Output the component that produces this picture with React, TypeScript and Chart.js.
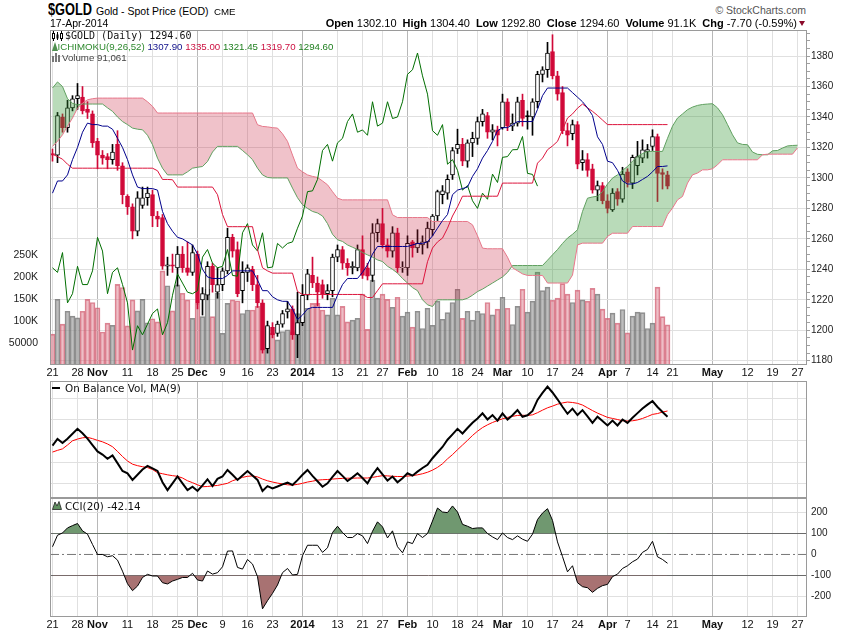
import React, { useEffect, useRef } from "react";
import { Chart, registerables } from "chart.js";

Chart.register(...registerables);

// ---------- axis ticks ----------
const tickIdx = [0, 5, 9, 15, 20, 25, 29, 34, 39, 44, 50, 57, 62, 66, 71, 76, 81, 85, 90, 95, 100, 105, 111, 115, 120, 124, 132, 139, 144, 149];
const tickLbl = ["21", "28", "Nov", "11", "18", "25", "Dec", "9", "16", "23", "2014", "13", "21", "27", "Feb", "10", "18", "24", "Mar", "10", "17", "24", "Apr", "7", "14", "21", "May", "12", "19", "27"];
const monthLbl = ["Nov", "Dec", "2014", "Feb", "Mar", "Apr", "May"];
const priceTicks = [1180, 1200, 1220, 1240, 1260, 1280, 1300, 1320, 1340, 1360, 1380];
const priceMinorTicks = [
  1180, 1185, 1190, 1195, 1200, 1205, 1210, 1215, 1220, 1225, 1230, 1235, 1240, 1245, 1250, 1255,
  1260, 1265, 1270, 1275, 1280, 1285, 1290, 1295, 1300, 1305, 1310, 1315, 1320, 1325, 1330, 1335,
  1340, 1345, 1350, 1355, 1360, 1365, 1370, 1375, 1380, 1385, 1390, 1395,
];
const volTicks = [50, 100, 150, 200, 250];
const cciTicks = [-200, -100, 0, 100, 200];
const obvGrid = [0, 1, 2, 3, 4];

// ---------- price data (trading days from 21-Oct-2013 to 17-Apr-2014) ----------
const opens = [
  1316, 1315, 1340, 1333, 1346, 1352, 1353, 1345, 1342, 1324,
  1315, 1314, 1312, 1322, 1308, 1288, 1281, 1265, 1282, 1287,
  1289, 1275, 1274, 1242, 1243, 1241, 1250, 1241, 1238, 1250,
  1220, 1223, 1242, 1225, 1230, 1239, 1261, 1253, 1226, 1238,
  1240, 1230, 1218, 1188, 1202, 1198, 1204, 1212, 1214, 1197,
  1205, 1223, 1236, 1231, 1230, 1224, 1226, 1248, 1253, 1244,
  1241, 1241, 1253, 1241, 1236, 1264, 1270, 1256, 1252, 1264,
  1241, 1241, 1258, 1254, 1256, 1258, 1266, 1275, 1289, 1290,
  1302, 1319, 1322, 1311, 1323, 1326, 1337, 1341, 1330, 1331.5,
  1333, 1350, 1334, 1336, 1351, 1341, 1340, 1350, 1368, 1371,
  1383, 1367, 1356, 1331, 1329, 1335, 1310, 1312, 1306, 1292,
  1295, 1285, 1279, 1291, 1286, 1304, 1296.5, 1308, 1313, 1317.2,
  1320.7, 1327.2, 1303.5, 1302.1,
];
const highs = [
  1319, 1343, 1342, 1351, 1354, 1362, 1360, 1350, 1344, 1326,
  1318, 1316, 1322, 1331, 1310, 1289, 1283, 1291, 1294, 1294,
  1292, 1278, 1276, 1248, 1250, 1255, 1255, 1258, 1256, 1252,
  1228, 1245, 1244, 1241, 1241, 1267, 1263, 1258, 1245, 1243,
  1242, 1236, 1220, 1206, 1205, 1206, 1213, 1219, 1216, 1225,
  1230, 1240, 1248, 1235, 1233, 1230, 1250, 1256, 1255, 1247,
  1245, 1256, 1262, 1244, 1270, 1273, 1280, 1260, 1268, 1267,
  1245, 1262, 1259, 1266, 1262, 1271, 1276, 1292, 1295, 1302,
  1320, 1332, 1326, 1325, 1330, 1340, 1345, 1343, 1335, 1334,
  1355, 1352, 1342, 1353, 1355, 1344, 1352, 1370, 1373, 1389,
  1394, 1370, 1360, 1336, 1338, 1337, 1318, 1316, 1309, 1298,
  1297, 1289, 1293, 1293, 1307, 1306, 1315, 1324, 1325, 1322,
  1331.6, 1328.8, 1306, 1304.4,
];
const lows = [
  1311, 1310, 1330, 1330, 1344, 1345, 1342, 1339, 1320, 1306,
  1309, 1306, 1309, 1305, 1283, 1276, 1260, 1262, 1280, 1282,
  1268, 1268, 1240, 1236, 1238, 1229, 1238, 1236, 1236, 1214,
  1210, 1220, 1225, 1221, 1226, 1237, 1248, 1222, 1218, 1232,
  1226, 1215, 1185, 1185, 1195, 1196, 1202, 1208, 1194, 1182,
  1203, 1220, 1228, 1216, 1221, 1220, 1222, 1245, 1240, 1236,
  1237, 1239, 1234, 1233, 1232, 1258, 1254, 1248, 1248, 1238,
  1238, 1236, 1248, 1251, 1250, 1254, 1262, 1272, 1283, 1286,
  1299, 1316, 1308, 1307, 1314, 1322, 1334, 1326, 1325, 1321,
  1332, 1331, 1331, 1334, 1334, 1332, 1328, 1346, 1363, 1366,
  1365, 1351, 1329, 1321, 1325, 1306, 1305, 1301, 1290, 1285,
  1283, 1277, 1278, 1282, 1284, 1294, 1293, 1302, 1310, 1313,
  1318, 1284.5, 1292.7, 1292.8,
];
const closes = [
  1315, 1341, 1333, 1346, 1352, 1354, 1344, 1343, 1323, 1315,
  1313, 1312, 1317, 1308, 1289, 1281, 1265, 1287, 1287, 1290,
  1275, 1273, 1242, 1243, 1242, 1250, 1241, 1238, 1251, 1218,
  1224, 1242, 1230, 1230, 1239, 1261, 1252, 1224, 1238, 1241,
  1230, 1218, 1187, 1203, 1197, 1204, 1211, 1214, 1197, 1205,
  1223, 1237, 1231, 1225, 1224, 1226, 1248, 1253, 1244, 1241,
  1242, 1253, 1236, 1235.5, 1264, 1270, 1256, 1252, 1264, 1241,
  1241.5, 1257, 1254, 1257, 1258, 1267, 1275, 1291, 1291.5, 1299,
  1318, 1322, 1311, 1323, 1326, 1337, 1342, 1330, 1331.5, 1328,
  1350, 1334, 1336, 1350, 1339, 1340, 1350, 1368, 1371, 1382,
  1367, 1355, 1331, 1328, 1335, 1309, 1312, 1305, 1292, 1295,
  1285, 1280, 1290, 1286, 1302.5, 1297, 1313.5, 1314, 1318.5, 1318.6,
  1327.2, 1303, 1302.3, 1294.6,
];
// volume in thousands
const volumeK = [
  70, 149, 93, 122, 111, 107, 122, 149, 142, 130,
  75, 95, 90, 183, 176, 89, 148, 123, 149, 96,
  105, 98, 214, 180, 123, 182, 163, 148, 106, 140,
  110, 172, 110, 163, 72, 140, 148, 146, 117, 125,
  125, 133, 140, 87, 72, 57, 76, 80, 76, 117,
  110, 129, 140, 140, 125, 114, 152, 114, 133, 98,
  102, 106, 161, 81, 193, 152, 161, 149, 131, 154,
  111, 120, 86, 122, 83, 129, 90, 145, 104, 119,
  142, 172, 106, 122, 102, 122, 117, 142, 114, 127,
  154, 129, 92, 133, 172, 120, 145, 211, 169, 177,
  147, 152, 185, 161, 142, 170, 148, 145, 174, 161,
  127, 106, 118, 95, 126, 73, 111, 120, 119, 83,
  95, 177, 110, 91.061,
];

// ---------- Ichimoku (9,26,52) ----------
const tenkan = [
  1290, 1298, 1298, 1302, 1312, 1320, 1330, 1336, 1335, 1335,
  1334, 1334, 1332, 1326, 1320, 1312, 1302, 1294, 1293, 1293,
  1293, 1292, 1278, 1270, 1265, 1261, 1260, 1258, 1256, 1250,
  1240, 1235, 1234, 1234, 1234, 1236, 1239, 1239, 1239, 1239,
  1239, 1233, 1226, 1226, 1222, 1220, 1219, 1219, 1214, 1207,
  1210, 1214, 1215, 1215, 1215, 1215, 1215, 1223, 1230, 1234,
  1234, 1234, 1238, 1243, 1250, 1255, 1255, 1255, 1255, 1255,
  1255, 1255, 1256, 1257, 1257, 1258, 1262, 1267, 1272, 1276,
  1289, 1292, 1293, 1294, 1301, 1306, 1313, 1318, 1324, 1331,
  1333, 1333, 1335, 1337, 1337, 1337, 1337, 1345, 1354, 1359,
  1359, 1359, 1359, 1359, 1356, 1353, 1350, 1346, 1341, 1327,
  1322, 1311, 1310, 1305, 1298, 1296, 1296, 1297, 1299, 1301,
  1304, 1307.5, 1307.5, 1307.9,
];
const kijun = [
  1315.6, 1314, 1312.3, 1309, 1306.4, 1306.4, 1306.4, 1306.4, 1306.4, 1306.4,
  1306.4, 1306.4, 1306.4, 1306.4, 1306.4, 1306.4, 1306.4, 1306.4, 1306.4, 1306.4,
  1306.4, 1304.7, 1299, 1299, 1298.8, 1294, 1294, 1294, 1294, 1294,
  1294, 1294, 1294, 1289, 1276, 1268, 1268, 1268, 1268, 1268,
  1268, 1253, 1241, 1239, 1237.5, 1237.5, 1237.5, 1237.5, 1237.5, 1225.4,
  1223.5, 1223.5, 1223.5, 1223.5, 1223.5, 1223.5, 1223.5, 1223.5, 1223.5, 1223.5,
  1223.5, 1223.5, 1223.5, 1221.5, 1221.5, 1226, 1230.5, 1230.5, 1230.5, 1230.5,
  1230.5, 1230.5, 1230.5, 1230.5, 1230.5, 1245, 1254, 1258, 1260.5, 1267,
  1275, 1281, 1288, 1288, 1288, 1288, 1288, 1288, 1288, 1288,
  1296.6, 1296.6, 1296.6, 1296.6, 1296.6, 1296.6, 1296.6, 1309.7, 1313, 1318.5,
  1321, 1324, 1331.6, 1339.3, 1342, 1345.8, 1348.5, 1346, 1343.7, 1341,
  1338, 1335, 1335, 1335, 1335, 1335, 1335, 1335, 1335, 1335,
  1335, 1335, 1335, 1335,
];
const spanA = [
  1359, 1363, 1360, 1352, 1349, 1348, 1348.5, 1348.5, 1348.5, 1348.5,
  1348.5, 1346, 1343.7, 1340, 1337, 1335, 1332.7, 1332, 1331.6, 1328,
  1321.8, 1313, 1306.4, 1302, 1302, 1302, 1302, 1304, 1306.4, 1307,
  1307.5, 1310.8, 1317, 1320.7, 1320.7, 1320.7, 1320.7, 1320.7, 1318, 1315.2,
  1312, 1306.4, 1302, 1300.3, 1300, 1300, 1300, 1300, 1293.3, 1287,
  1282.4, 1280, 1278, 1277, 1275, 1270, 1263, 1259.4, 1258.3, 1256,
  1254.5, 1253, 1251, 1249.5, 1248, 1246.2, 1245.1, 1242, 1240, 1237.5,
  1234, 1231, 1228, 1226, 1220, 1216.7, 1215.6, 1220, 1220, 1220,
  1220, 1220, 1220, 1221, 1223, 1225.4, 1227, 1229, 1231, 1233,
  1235, 1238, 1242.5, 1242.5, 1242.5, 1242.5, 1242.5, 1242.5, 1242.5, 1246,
  1249.5, 1253, 1257, 1260.5, 1263, 1266, 1278, 1286.7, 1287.5, 1288,
  1291, 1296, 1299.9, 1302, 1305, 1307.5, 1311, 1314.1, 1316, 1317.4,
  1317.4, 1317.4, 1317.4, 1326, 1334, 1339.3, 1342, 1344.8, 1346.5, 1347.6,
  1348.2, 1348.5, 1348.7, 1346, 1341.5, 1335, 1328.3, 1323, 1322, 1321.8,
  1317, 1315.5, 1315.2, 1315.2, 1317.8, 1318, 1319.6, 1321, 1321.3, 1321.45,
];
const spanB = [
  1320.7, 1324, 1328.3, 1334, 1339.3, 1345.8, 1349.1, 1351.3, 1352, 1352.4,
  1352.4, 1352.4, 1352.4, 1352.4, 1352.4, 1352.4, 1352.4, 1352.4, 1352.4, 1350,
  1347, 1342.6, 1342.6, 1342.6, 1342.6, 1342.6, 1342.6, 1342.6, 1342.6, 1342.6,
  1342.6, 1342.6, 1342.6, 1342.6, 1342.6, 1342.6, 1342.6, 1342.6, 1342.6, 1342.6,
  1342.6, 1334.9, 1333.8, 1333.5, 1333, 1332.7, 1329, 1324, 1315, 1306.4,
  1304, 1302, 1301, 1300.3, 1298, 1295.5, 1291, 1286.7, 1285.6, 1285.6,
  1285.6, 1285.6, 1285.6, 1285.6, 1285.6, 1285.6, 1285.6, 1285.6, 1275.8, 1274,
  1274, 1274, 1274, 1274, 1274, 1274, 1271.4, 1271.4, 1271.4, 1271.4,
  1271.4, 1271.4, 1271.4, 1271.4, 1269.2, 1262, 1253.9, 1253.5, 1253.5, 1253.5,
  1253.5, 1248, 1241, 1239, 1237, 1236, 1236, 1236, 1236, 1231,
  1231, 1231, 1231, 1231, 1236.2, 1256, 1257.2, 1257.2, 1257.2, 1257.2,
  1257.2, 1261.6, 1263.7, 1263.7, 1263.7, 1263.7, 1268.1, 1268.1, 1268.1, 1268.1,
  1268.1, 1268.1, 1268.1, 1275.8, 1280.2, 1285.6, 1287.8, 1296.6, 1302, 1303.2,
  1305.3, 1305.3, 1306, 1308.6, 1311.9, 1311.9, 1311.9, 1311.9, 1311.9, 1311.9,
  1311.9, 1311.9, 1315.2, 1315.6, 1315.6, 1315.6, 1315.6, 1315.6, 1315.6, 1319.7,
];

// ---------- On Balance Volume (millions, relative) and its MA(9) ----------
const obv = [
  1.77, 2.09, 1.9, 2.1, 2.33, 2.56, 2.35, 2.1, 1.8, 1.5,
  1.35, 1.15, 1.31, 0.95, 0.58, 0.47, 0.16, 0.4, 0.65, 0.82,
  0.7, 0.58, 0.05, -0.32, 0.0, 0.32, 0.0, -0.32, -0.16, -0.36,
  -0.1, 0.19, -0.13, 0.21, 0.32, 0.63, 0.4, 0.16, 0.37, 0.58,
  0.37, 0.16, -0.36, -0.13, -0.24, -0.15, -0.05, 0.03, -0.08, 0.15,
  0.4, 0.63, 0.35, 0.1, -0.16, 0.0, 0.3, 0.58, 0.35, 0.11,
  0.28, 0.47, 0.25, 0.0, 0.4, 0.71, 0.42, 0.13, 0.32, 0.05,
  0.24, 0.47, 0.36, 0.55, 0.72, 0.87, 1.18, 1.45, 1.71, 2.05,
  2.3, 2.56, 2.34, 2.6, 2.85, 3.05, 3.29, 3.0, 3.21, 2.95,
  3.29, 3.0, 3.2, 3.44, 3.13, 3.2, 3.4, 3.92, 4.25, 4.55,
  4.27, 3.95, 3.6, 3.27, 3.51, 3.21, 3.44, 3.15, 2.84, 3.13,
  2.93, 2.72, 2.95, 2.72, 3.0, 2.84, 3.08, 3.3, 3.52, 3.7,
  3.87, 3.59, 3.35, 3.13,
];
const obvMA = [
  1.47, 1.55, 1.62, 1.8, 2.0, 2.08, 2.14, 2.16, 2.1, 2.02,
  1.95, 1.85, 1.72, 1.5, 1.26, 1.05, 0.9, 0.83, 0.78, 0.74,
  0.65, 0.5, 0.45, 0.4, 0.36, 0.33, 0.25, 0.12, 0.03, -0.07,
  -0.16, -0.15, -0.12, -0.1, -0.05, 0.0, 0.12, 0.2, 0.28, 0.33,
  0.35, 0.3, 0.2, 0.12, 0.06, 0.01, -0.03, -0.07, -0.08, -0.05,
  0.0, 0.06, 0.1, 0.15, 0.17, 0.18, 0.2, 0.22, 0.23, 0.24,
  0.24, 0.25, 0.25, 0.25, 0.28, 0.32, 0.36, 0.35, 0.33, 0.32,
  0.32, 0.34, 0.36, 0.4, 0.45, 0.52, 0.62, 0.75, 0.92, 1.15,
  1.35, 1.58, 1.8, 2.02, 2.25, 2.45, 2.62, 2.75, 2.86, 2.95,
  3.03, 3.1, 3.15, 3.19, 3.2, 3.19, 3.22, 3.32, 3.44, 3.55,
  3.63, 3.72, 3.78, 3.82, 3.8, 3.76, 3.68, 3.55, 3.42, 3.3,
  3.2, 3.1, 3.05, 3.0, 2.94, 2.93, 2.94, 2.98, 3.05, 3.14,
  3.24, 3.28, 3.35, 3.4,
];

// ---------- CCI(20) ----------
const cci = [
  37, 92, 103, 127, 138, 148, 113, 97, 48, 0,
  0, -11, -6, -27, -80, -140, -173, -151, -110, -95,
  -103, -103, -135, -141, -127, -119, -110, -110, -90, -122,
  -127, -79, -94, -87, -59, 16, 17, -62, -70, -24,
  -46, -106, -260, -221, -186, -146, -87, -67, -98, -95,
  -6, 44, 44, 44, 10, 32, 105, 135, 105, 81,
  81, 100, 89, 52, 111, 156, 132, 79, 113, 37,
  8, 60, 52, 100, 81, 100, 160, 222, 203, 200,
  232, 203, 144, 135, 124, 127, 127, 100, 84, 71,
  103, 81, 71, 89, 73, 63, 97, 167, 198, 219,
  163, 60, -10, -83, -54, -135, -154, -159, -181, -162,
  -149, -143, -106, -94, -67, -54, -35, -22, 10, 24,
  63, -11, -24, -42.14,
];

// ---------- styling helpers ----------
const SANS = "'Liberation Sans', Arial, Helvetica, sans-serif";
const X_MIN = -0.5;
const X_MAX = 150.9;
const LEFT_W = 50;
const RIGHT_W = 43;
const RED = "rgb(208,8,56)";

const lblAt = (v: number) => {
  const k = tickIdx.indexOf(Math.round(v));
  return k >= 0 ? tickLbl[k] : "";
};
const isMonth = (v: number) => monthLbl.includes(lblAt(v));

const fitV = (w: number) => (s: any) => {
  s.width = w;
  s.paddingTop = 0;
  s.paddingBottom = 0;
};

function xAxis(showLabels: boolean, h: number): any {
  return {
    type: "linear",
    position: "bottom",
    min: X_MIN,
    max: X_MAX,
    offset: false,
    afterBuildTicks: (s: any) => {
      s.ticks = tickIdx.map((v) => ({ value: v }));
    },
    afterFit: (s: any) => {
      s.height = h;
      s.paddingLeft = 0;
      s.paddingRight = 0;
    },
    grid: {
      offset: false,
      drawTicks: false,
      color: (c: any) => (c.tick && isMonth(c.tick.value) ? "#b8b8b8" : "#e0e0e0"),
    },
    border: { display: false },
    ticks: {
      display: showLabels,
      autoSkip: false,
      maxRotation: 0,
      minRotation: 0,
      padding: 1,
      color: "#111",
      callback: (v: any) => lblAt(Number(v)),
      font: (c: any) => ({
        family: SANS,
        size: 11,
        weight: c.tick && isMonth(c.tick.value) ? "bold" : "normal",
      }),
    },
  };
}

function blankLeft(): any {
  return {
    position: "left",
    min: 0,
    max: 1,
    afterFit: fitV(LEFT_W),
    grid: { display: false },
    border: { display: false },
    ticks: { display: false },
  };
}

const framePlugin = {
  id: "frame",
  afterDraw(chart: any) {
    const { ctx, chartArea: a } = chart;
    ctx.save();
    ctx.strokeStyle = "#9a9a9a";
    ctx.lineWidth = 1;
    ctx.strokeRect(Math.round(a.left) + 0.5, Math.round(a.top) + 0.5, Math.round(a.right - a.left) - 1, Math.round(a.bottom - a.top) - 1);
    ctx.restore();
  },
};

const baseOptions = (padTop: number): any => ({
  responsive: false,
  maintainAspectRatio: false,
  animation: false,
  events: [],
  layout: { padding: { top: padTop, left: 0, right: 0, bottom: 0 } },
  plugins: { legend: { display: false }, tooltip: { enabled: false } },
});

const pts = (arr: number[]) => arr.map((v, i) => ({ x: i, y: v }));

function mainConfig(): any {
  const dirUp = closes.map((c, i) => (i === 0 ? false : c >= closes[i - 1]));
  const candleCol = dirUp.map((u) => (u ? "#000" : RED));
  const bodyFill = closes.map((c, i) => (c > opens[i] ? "#fff" : candleCol[i]));
  const line = (data: any[], color: string, order: number, extra: any = {}) => ({
    type: "line",
    yAxisID: "y",
    data,
    borderColor: color,
    borderWidth: 1,
    pointRadius: 0,
    tension: 0,
    fill: false,
    order,
    ...extra,
  });
  return {
    type: "bar",
    data: {
      datasets: [
        {
          type: "bar",
          yAxisID: "yv",
          data: pts(volumeK),
          backgroundColor: dirUp.map((u) => (u ? "rgba(150,150,150,0.62)" : "rgba(215,100,120,0.42)")),
          borderColor: dirUp.map((u) => (u ? "rgba(115,115,115,0.8)" : "rgba(210,95,115,0.75)")),
          borderWidth: 1,
          barThickness: 5,
          grouped: false,
          order: 10,
        },
        {
          type: "bar",
          yAxisID: "y",
          data: lows.map((l, i) => ({ x: i, y: [l, highs[i]] })),
          backgroundColor: candleCol,
          borderWidth: 0,
          barThickness: 1,
          grouped: false,
          order: 9,
        },
        {
          type: "bar",
          yAxisID: "y",
          data: opens.map((o, i) => ({ x: i, y: [o, closes[i]] })),
          backgroundColor: bodyFill,
          borderColor: candleCol,
          borderWidth: 1,
          borderSkipped: false,
          barThickness: 4,
          grouped: false,
          order: 8,
        },
        line(pts(spanA), "rgb(96,160,96)", 7, {
          fill: { target: 4, above: "rgba(50,150,50,0.34)", below: "rgba(200,30,60,0.27)" },
        }),
        line(pts(spanB), "rgb(232,118,138)", 6),
        line(pts(closes.slice(26)), "rgb(0,110,0)", 5),
        line(pts(kijun), "rgb(220,20,60)", 4),
        line(pts(tenkan), "rgb(0,0,140)", 3),
      ],
    },
    options: {
      ...baseOptions(2),
      scales: {
        x: xAxis(true, 15),
        y: {
          type: "linear",
          position: "right",
          min: 1177.2,
          max: 1397.1,
          afterBuildTicks: (s: any) => {
            s.ticks = priceMinorTicks.map((v) => ({ value: v }));
          },
          afterFit: fitV(RIGHT_W),
          grid: {
            drawTicks: true,
            tickLength: 3,
            tickColor: "#a0a0a0",
            color: (c: any) => (c.tick && priceTicks.includes(c.tick.value) ? "#e0e0e0" : "rgba(0,0,0,0)"),
          },
          border: { display: false },
          ticks: {
            autoSkip: false,
            padding: 1,
            color: "#222",
            font: { family: SANS, size: 10 },
            callback: (v: any) => (priceTicks.includes(Number(v)) ? String(v) : ""),
          },
        },
        yv: {
          type: "linear",
          position: "left",
          min: 0,
          max: 761,
          afterBuildTicks: (s: any) => {
            s.ticks = volTicks.map((v) => ({ value: v }));
          },
          afterFit: fitV(LEFT_W),
          grid: { display: false },
          border: { display: false },
          ticks: {
            padding: 4,
            color: "#222",
            font: { family: SANS, size: 10.5 },
            callback: (v: any) => (Number(v) === 50 ? "50000" : `${v}K`),
          },
        },
      },
    },
    plugins: [framePlugin],
  };
}

function obvConfig(): any {
  return {
    type: "line",
    data: {
      datasets: [
        { data: pts(obv), borderColor: "#000", borderWidth: 2, pointRadius: 0, tension: 0, fill: false, order: 1, yAxisID: "y" },
        { data: pts(obvMA), borderColor: "rgb(255,0,0)", borderWidth: 1, pointRadius: 0, tension: 0, fill: false, order: 2, yAxisID: "y" },
      ],
    },
    options: {
      ...baseOptions(1),
      scales: {
        x: xAxis(false, 0),
        yl: blankLeft(),
        y: {
          type: "linear",
          position: "right",
          min: -0.69,
          max: 4.81,
          afterBuildTicks: (s: any) => {
            s.ticks = obvGrid.map((v) => ({ value: v }));
          },
          afterFit: fitV(RIGHT_W),
          grid: { color: "#e0e0e0", drawTicks: false },
          border: { display: false },
          ticks: { display: false },
        },
      },
    },
    plugins: [framePlugin],
  };
}

function cciConfig(): any {
  return {
    type: "line",
    data: {
      datasets: [
        {
          data: pts(cci),
          borderColor: "#000",
          borderWidth: 1,
          pointRadius: 0,
          tension: 0,
          order: 1,
          yAxisID: "y",
          fill: { target: { value: 100 }, above: "rgb(112,152,112)", below: "rgba(0,0,0,0)" },
        },
        {
          data: pts(cci),
          borderColor: "rgba(0,0,0,0)",
          borderWidth: 1,
          pointRadius: 0,
          tension: 0,
          order: 2,
          yAxisID: "y",
          fill: { target: { value: -100 }, above: "rgba(0,0,0,0)", below: "rgb(168,114,114)" },
        },
        {
          data: [
            { x: X_MIN, y: 0 },
            { x: X_MAX, y: 0 },
          ],
          borderColor: "#777",
          borderWidth: 1,
          borderDash: [9, 3, 2, 3],
          pointRadius: 0,
          fill: false,
          order: 3,
          yAxisID: "y",
        },
      ],
    },
    options: {
      ...baseOptions(0),
      scales: {
        x: xAxis(true, 16),
        yl: blankLeft(),
        y: {
          type: "linear",
          position: "right",
          min: -299,
          max: 270,
          afterBuildTicks: (s: any) => {
            s.ticks = cciTicks.map((v) => ({ value: v }));
          },
          afterFit: fitV(RIGHT_W),
          grid: {
            drawTicks: false,
            color: (c: any) => {
              const v = c.tick ? c.tick.value : 1;
              if (v === 0) return "rgba(0,0,0,0)";
              if (Math.abs(v) === 100) return "#6a6a6a";
              return "#e0e0e0";
            },
          },
          border: { display: false },
          ticks: { padding: 4, color: "#222", font: { family: SANS, size: 10 }, callback: (v: any) => String(v) },
        },
      },
    },
    plugins: [framePlugin],
  };
}

function ChartCanvas({ top, height, make }: { top: number; height: number; make: () => any }) {
  const ref = useRef<HTMLCanvasElement | null>(null);
  useEffect(() => {
    if (!ref.current) return;
    const chart = new Chart(ref.current, make());
    return () => chart.destroy();
  }, []);
  return (
    <canvas
      ref={ref}
      width={850}
      height={height}
      style={{ position: "absolute", left: 0, top, width: 850, height, display: "block" }}
    />
  );
}

function Txt({ x, y, size, children, font = SANS, weight = "normal", color = "#000", right = false, ls, tf }: any) {
  const style: any = {
    position: "absolute",
    top: y - size * 0.6,
    fontFamily: font,
    fontSize: size,
    lineHeight: `${size * 1.2}px`,
    fontWeight: weight,
    color,
    whiteSpace: "nowrap",
    letterSpacing: ls,
    transform: tf,
    transformOrigin: "left center",
  };
  if (right) style.right = 850 - x;
  else style.left = x;
  return <div style={style}>{children}</div>;
}

export default function App() {
  const g = { marginLeft: 6 };
  return (
    <div style={{ position: "absolute", left: 0, top: 0, width: 850, height: 633, background: "#fff", overflow: "hidden" }}>
      <ChartCanvas top={28} height={352} make={mainConfig} />
      <ChartCanvas top={380} height={118} make={obvConfig} />
      <ChartCanvas top={498} height={135} make={cciConfig} />

      {/* header */}
      <Txt x={48} y={10} size={16} weight="bold" tf="scaleX(0.8)">$GOLD</Txt>
      <Txt x={96} y={11} size={10.5}>Gold - Spot Price (EOD)</Txt>
      <Txt x={214} y={11.5} size={9.7}>CME</Txt>
      <Txt x={50} y={23.5} size={10.5}>17-Apr-2014</Txt>
      <Txt x={806} y={10.5} size={10.5} color="#555" right>
        © StockCharts.com
      </Txt>
      <Txt x={797} y={23.5} size={11} right>
        <b>Open</b> 1302.10<b style={g}>High</b> 1304.40<b style={g}>Low</b> 1292.80<b style={g}>Close</b> 1294.60
        <b style={g}>Volume</b> 91.1K<b style={g}>Chg</b> -7.70 (-0.59%)
      </Txt>
      <div
        style={{
          position: "absolute",
          left: 799,
          top: 21,
          width: 0,
          height: 0,
          borderLeft: "3.5px solid transparent",
          borderRight: "3.5px solid transparent",
          borderTop: "5px solid #8b0a2a",
        }}
      />

      {/* main panel legend */}
      <svg style={{ position: "absolute", left: 52, top: 31 }} width={11} height={10}>
        <line x1={1.5} y1={0} x2={1.5} y2={10} stroke="#000" />
        <rect x={0.5} y={2.5} width={2} height={5} fill="#fff" stroke="#000" />
        <line x1={5.5} y1={1} x2={5.5} y2={9} stroke="#000" />
        <rect x={4.5} y={3.5} width={2} height={4} fill="#000" />
        <line x1={9.5} y1={0} x2={9.5} y2={10} stroke="#000" />
        <rect x={8.5} y={2.5} width={2} height={5} fill="#fff" stroke="#000" />
      </svg>
      <Txt x={65} y={36} size={10} font="'DejaVu Sans Mono', 'Liberation Mono', monospace" color="#111">
        $GOLD (Daily) 1294.60
      </Txt>
      <svg style={{ position: "absolute", left: 52, top: 42 }} width={6} height={9}>
        <polygon points="0,9 3,0 6,9" fill="#4f8f4f" />
      </svg>
      <Txt x={57.5} y={47} size={9.7}>
        <span style={{ color: "#2f8a2f" }}>ICHIMOKU(9,26,52)</span> <span style={{ color: "#10108a" }}>1307.90</span>{" "}
        <span style={{ color: "#cc1040" }}>1335.00</span> <span style={{ color: "#1f7f1f" }}>1321.45</span>{" "}
        <span style={{ color: "#cc1040" }}>1319.70</span> <span style={{ color: "#1f7f1f" }}>1294.60</span>
      </Txt>
      <svg style={{ position: "absolute", left: 52, top: 53 }} width={9} height={9}>
        <rect x={0} y={3} width={2} height={6} fill="#777" />
        <rect x={3} y={0} width={2} height={9} fill="#777" />
        <rect x={6} y={2} width={2} height={7} fill="#777" />
      </svg>
      <Txt x={62} y={57.5} size={9.7} color="#444">
        Volume 91,061
      </Txt>

      {/* OBV legend */}
      <div style={{ position: "absolute", left: 52, top: 387, width: 8, height: 2, background: "#000" }} />
      <Txt x={65} y={388} size={10.4} font="'DejaVu Sans', Verdana, sans-serif" color="#111">
        On Balance Vol, MA(9)
      </Txt>

      {/* CCI legend */}
      <svg style={{ position: "absolute", left: 52, top: 501 }} width={10} height={9}>
        <polygon points="0.5,8.5 3,1 5,5 7,0.5 9.5,8.5" fill="#5f8f5f" stroke="#222" strokeWidth={0.8} />
      </svg>
      <Txt x={65} y={506} size={10.4} font="'DejaVu Sans', Verdana, sans-serif" color="#111">
        CCI(20) -42.14
      </Txt>
    </div>
  );
}
